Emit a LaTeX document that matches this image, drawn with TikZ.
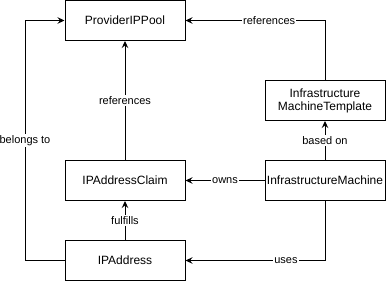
\documentclass[tikz,border=0pt]{standalone}
\usepackage{fontspec}
\setmainfont{Liberation Sans}
\usetikzlibrary{arrows.meta}
\begin{document}
\begin{tikzpicture}[x=1pt,y=-1pt,
  box/.style={draw=black, line width=1pt, fill=white, minimum width=120pt, minimum height=40pt, inner sep=0pt, align=center, font=\fontsize{12}{14}\selectfont},
  link/.style={draw=black, line width=1pt, -{Stealth[length=7pt,width=6.5pt,inset=2.5pt]}},
  lbl/.style={fill=white, inner sep=1pt, font=\fontsize{11}{13}\selectfont}]
  \useasboundingbox (0,0) rectangle (386,281);
  % resources
  \node[box] (pool) at (125,20.5) {ProviderIPPool};
  \node[box] (claim) at (125,180.5) {IPAddressClaim};
  \node[box] (addr) at (125,260.5) {IPAddress};
  \node[box] (tmpl) at (325,100.5) {Infrastructure\\[-1pt]MachineTemplate};
  \node[box] (mach) at (325,180.5) {InfrastructureMachine};
  % relations
  \draw[link] (tmpl.north) |- node[lbl, pos=0.70] {references} (pool.east);
  \draw[link] (claim.north) -- node[lbl] {references} (pool.south);
  \coordinate (bend) at (25,260.5);
  \draw[link] (addr.west) -- (bend) |- node[lbl, pos=0.25] {belongs to} (pool.west);
  \draw[link] (addr.north) -- node[lbl] {fulfills} (claim.south);
  \draw[link] (mach.west) -- node[lbl] {owns} (claim.east);
  \draw[link] (mach.north) -- node[lbl] {based on} (tmpl.south);
  \draw[link] (mach.south) |- node[lbl, pos=0.64] {uses} (addr.east);
\end{tikzpicture}
\end{document}
